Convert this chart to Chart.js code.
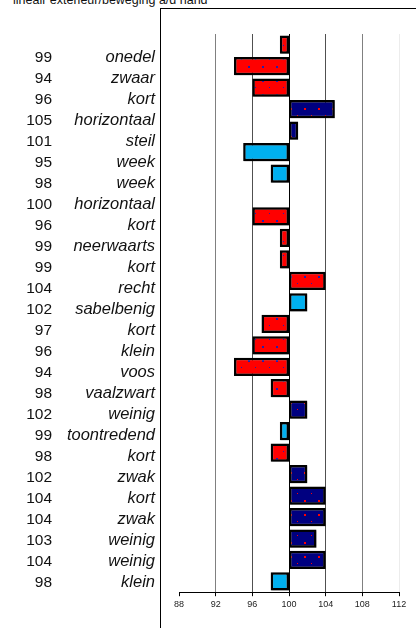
<!DOCTYPE html>
<html>
<head>
<meta charset="utf-8">
<script src="https://cdn.jsdelivr.net/npm/chart.js@4/dist/chart.umd.min.js"></script>
<style>
  html, body { margin: 0; padding: 0; background: #fff; }
  #wrap { position: relative; width: 416px; height: 628px; overflow: hidden; }
  #title {
    position: absolute; left: 13px; top: -6px;
    font: 12.5px "Liberation Sans", Arial, sans-serif; line-height: 12.5px;
    color: #111; white-space: nowrap;
  }
  #frame {
    position: absolute; left: 160px; top: 8px; right: -2px; bottom: -2px;
    border-left: 1px solid #000; border-top: 1px solid #000;
    pointer-events: none;
  }
  canvas { position: absolute; left: 0; top: 0; }
</style>
</head>
<body>
<div id="wrap">
  <div id="title">lineair exterieur/beweging a/d hand</div>
  <div id="frame"></div>
  <canvas id="kenmerkenChart" width="416" height="628"></canvas>
</div>
<script>
const traits = ["onedel", "zwaar", "kort", "horizontaal", "steil", "week", "week", "horizontaal", "kort", "neerwaarts", "kort", "recht", "sabelbenig", "kort", "klein", "voos", "vaalzwart", "weinig", "toontredend", "kort", "zwak", "kort", "zwak", "weinig", "weinig", "klein"];
const scores = [99, 94, 96, 105, 101, 95, 98, 100, 96, 99, 99, 104, 102, 97, 96, 94, 98, 102, 99, 98, 102, 104, 104, 103, 104, 98];
// r = rood, n = donkerblauw, l = lichtblauw
const groups = ["r", "r", "r", "n", "n", "l", "l", "r", "r", "r", "r", "r", "l", "r", "r", "r", "r", "n", "l", "r", "n", "n", "n", "n", "n", "l"];
const baseline = 100;
const xMin = 88;
const xMax = 112;
const xStep = 4;

const ctx = document.getElementById("kenmerkenChart").getContext("2d");

// small dotted fill like the original
function dotted(base, dot) {
  const c = document.createElement("canvas");
  c.width = 14;
  c.height = 14;
  const g = c.getContext("2d");
  g.fillStyle = base;
  g.fillRect(0, 0, 14, 14);
  g.fillStyle = dot;
  g.fillRect(3, 3, 1, 1);
  g.fillRect(10, 10, 2, 2);
  return ctx.createPattern(c, "repeat");
}

const fills = {
  r: dotted("#ff0000", "#2020b0"),
  n: dotted("#000080", "#ff0000"),
  l: "#00b0f0",
};

const gridColors = ["rgba(0,0,0,0)", "#808080", "#505050", "#000000", "#505050", "#808080", "#ececec"];

const labelPlugin = {
  id: "rowLabels",
  afterDraw(chart) {
    const y = chart.scales.y;
    const c = chart.ctx;
    c.save();
    c.fillStyle = "#111";
    c.textBaseline = "middle";
    c.textAlign = "right";
    traits.forEach((t, i) => {
      const py = y.getPixelForValue(i) + 13 - (12 * i) / (traits.length - 1);
      c.font = "15.5px 'Liberation Sans', Arial, sans-serif";
      c.fillText(String(scores[i]), 52, py);
      c.font = "italic 16.5px 'Liberation Sans', Arial, sans-serif";
      c.fillText(t, 155, py);
    });
    c.restore();
  },
};

const shadowPlugin = {
  id: "barShadow",
  beforeDatasetDraw(chart) {
    chart.ctx.save();
    chart.ctx.shadowColor = "rgba(0,0,0,0.35)";
    chart.ctx.shadowOffsetX = 1;
    chart.ctx.shadowOffsetY = 1;
    chart.ctx.shadowBlur = 1.5;
  },
  afterDatasetDraw(chart) {
    chart.ctx.restore();
  },
};

new Chart(ctx, {
  type: "bar",
  data: {
    labels: traits,
    datasets: [
      {
        data: scores.map((v) => [baseline, v]),
        backgroundColor: groups.map((g) => fills[g]),
        borderColor: "#000",
        borderWidth: 2.5,
        borderSkipped: false,
        categoryPercentage: 0.85,
        barPercentage: 1,
      },
    ],
  },
  options: {
    indexAxis: "y",
    responsive: false,
    animation: false,
    devicePixelRatio: 1,
    layout: { padding: { left: 179, right: 17, top: 34, bottom: 15 } },
    plugins: {
      legend: { display: false },
      tooltip: { enabled: false },
    },
    scales: {
      x: {
        min: xMin,
        max: xMax,
        border: { display: true, color: "#000", width: 1 },
        grid: {
          color: (c) => gridColors[c.index] || "#808080",
          lineWidth: 1,
          tickColor: "#000",
          tickLength: 4,
        },
        ticks: {
          stepSize: xStep,
          color: "#222",
          padding: 3,
          font: { family: "'Liberation Sans', Arial, sans-serif", size: 9 },
        },
      },
      y: {
        display: false,
        offset: true,
      },
    },
  },
  plugins: [labelPlugin, shadowPlugin],
});
</script>
</body>
</html>
